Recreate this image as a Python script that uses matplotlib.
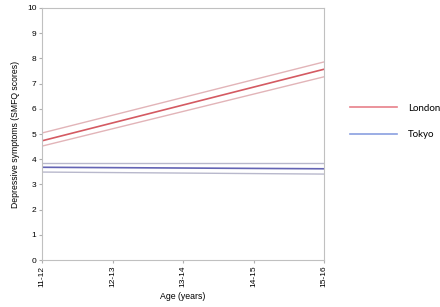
import numpy as np
import matplotlib
matplotlib.use("Agg")
import matplotlib.pyplot as plt

plt.rcParams['font.family'] = ['Liberation Sans', 'DejaVu Sans']

ages = ["11-12", "12-13", "13-14", "14-15", "15-16"]

# linear trajectories: values at 11-12 and 15-16
london_mean = [4.73, 7.57]
london_upper = [5.04, 7.86]
london_lower = [4.52, 7.27]
tokyo_mean = [3.68, 3.62]
tokyo_upper = [3.84, 3.84]
tokyo_lower = [3.49, 3.41]

fig = plt.figure(figsize=(4.4, 3.07), dpi=100)
ax = fig.add_axes([0.0955, 0.153, 0.641, 0.821])

xs = [0, len(ages) - 1]
ax.plot(xs, london_upper, color="#e2b4b8", lw=1.0)
ax.plot(xs, london_lower, color="#e2b4b8", lw=1.0)
ax.plot(xs, london_mean, color="#d45a62", lw=1.2)
ax.plot(xs, tokyo_upper, color="#b8b8cc", lw=1.0)
ax.plot(xs, tokyo_lower, color="#b8b8cc", lw=1.0)
ax.plot(xs, tokyo_mean, color="#6464b4", lw=1.2)

ax.set_xlim(0, len(ages) - 1)
ax.set_ylim(0, 10)
ax.set_xticks(range(len(ages)))
ax.set_xticklabels(ages, rotation=90)
ax.set_yticks(range(0, 11))
ax.tick_params(labelsize=6, length=2.5, color="#b0b0b0", pad=1.5)
for s in ax.spines.values():
    s.set_color("#c0c0c0")
    s.set_linewidth(0.8)

ax.set_xlabel("Age (years)", fontsize=6.3)
ax.xaxis.set_label_coords(0.5, -0.125)
ax.set_ylabel("Depressive symptoms (SMFQ scores)", fontsize=6.2)
ax.yaxis.set_label_coords(-0.078, 0.5)

h1, = ax.plot([], [], color="#e8808a", lw=1.2, label="London")
h2, = ax.plot([], [], color="#8aa0e0", lw=1.2, label="Tokyo")
ax.legend(handles=[h1, h2], loc="center left", bbox_to_anchor=(1.06, 0.55),
          frameon=False, handlelength=4.9, handletextpad=1.1,
          labelspacing=1.8, prop={'family': ['Lato', 'DejaVu Sans'], 'size': 7})

fig.savefig("out.png", dpi=100)
